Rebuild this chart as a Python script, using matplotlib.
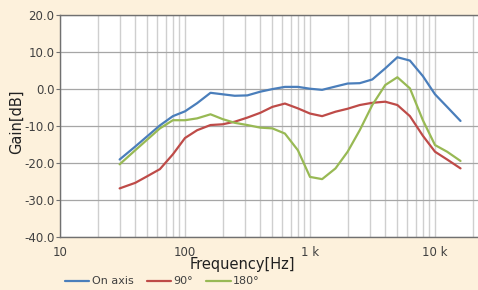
import matplotlib
matplotlib.use("Agg")
import matplotlib.pyplot as plt
from matplotlib.ticker import FixedLocator, NullFormatter, FixedFormatter

freq = [30, 40, 50, 63, 80, 100, 125, 160, 200, 250, 315, 400, 500, 630, 800,
        1000, 1250, 1600, 2000, 2500, 3150, 4000, 5000, 6300, 8000, 10000, 12500, 16000]
on_axis = [-19.0, -15.5, -12.7, -9.8, -7.3, -6.0, -3.8, -1.0, -1.4, -1.8, -1.7, -0.7, 0.0, 0.6, 0.6,
           0.1, -0.2, 0.7, 1.5, 1.6, 2.6, 5.6, 8.6, 7.7, 3.5, -1.4, -4.8, -8.6]
deg90 = [-26.8, -25.3, -23.5, -21.6, -17.6, -13.2, -11.1, -9.7, -9.5, -8.8, -7.7, -6.4, -4.8, -3.9, -5.2,
         -6.6, -7.3, -6.1, -5.3, -4.3, -3.7, -3.4, -4.3, -7.3, -12.6, -16.9, -19.0, -21.4]
deg180 = [-20.3, -16.5, -13.6, -10.6, -8.4, -8.4, -7.9, -6.8, -8.1, -9.1, -9.7, -10.4, -10.6, -12.0, -16.5,
          -23.7, -24.3, -21.4, -16.9, -11.1, -4.3, 1.1, 3.2, 0.2, -8.4, -15.1, -16.9, -19.4]
series_names = ["On axis", "90°", "180°"]
y_ticks = [-40, -30, -20, -10, 0, 10, 20]
x_major = [10, 100, 1000, 10000]
x_major_labels = ["10", "100", "1 k", "10 k"]

colors = ["#4A7EBB", "#BE4B48", "#98B954"]
bg = "#FDF1DC"
txt = "#404040"

plt.rcParams['font.family'] = ['DejaVu Sans']
fig = plt.figure(figsize=(4.78, 2.90), dpi=100, facecolor=bg)
ax = fig.add_axes([60/478, 1-237.3/290, 1-60/478, (237.3-15)/290])
ax.set_facecolor("white")

for vals, c, n in zip([on_axis, deg90, deg180], colors, series_names):
    ax.plot(freq, vals, color=c, lw=1.6, label=n, solid_capstyle='round')

ax.set_xscale('log')
ax.set_xlim(10, 10**(1 + 418/125))
ax.set_ylim(-40, 20)

minor = [m * 10**e for e in range(1, 5) for m in range(2, 10)]
ax.xaxis.set_major_locator(FixedLocator(x_major))
ax.xaxis.set_major_formatter(FixedFormatter(x_major_labels))
ax.xaxis.set_minor_locator(FixedLocator(minor))
ax.xaxis.set_minor_formatter(NullFormatter())
ax.set_yticks(y_ticks)
ax.set_yticklabels([f"{v:.1f}" for v in y_ticks])

ax.grid(True, which='major', axis='y', color='#a6a6a6', lw=0.9)
ax.grid(True, which='both', axis='x', color='#cfcfcf', lw=1.0)
ax.set_axisbelow(True)

for s in ['top', 'left', 'bottom']:
    ax.spines[s].set_color('#707070')
    ax.spines[s].set_linewidth(1.0)
ax.spines['right'].set_visible(False)

ax.tick_params(axis='y', which='major', length=3, width=0.8, color='#707070',
               labelsize=8.5, labelcolor=txt, pad=1)
ax.tick_params(axis='x', which='both', length=0, labelsize=8.5, labelcolor=txt, pad=6)

ax.set_xlabel("Frequency[Hz]", fontsize=10.5, color="#202020")
ax.set_ylabel("Gain[dB]", fontsize=10.5, color="#202020")
ax.xaxis.set_label_coords((242-60)/418, -(257-237.3)/222.3)
ax.yaxis.set_label_coords(-(60-24)/418, 0.52)

leg = fig.legend(loc='center left', bbox_to_anchor=(65/478, 1-281.5/290), ncol=3, frameon=False,
                 fontsize=8, handlelength=2.2, handletextpad=0.2, columnspacing=1.2,
                 borderaxespad=0.0, borderpad=0.0)
for t in leg.get_texts():
    t.set_color(txt)

fig.savefig("out.png", dpi=100, facecolor=bg)
